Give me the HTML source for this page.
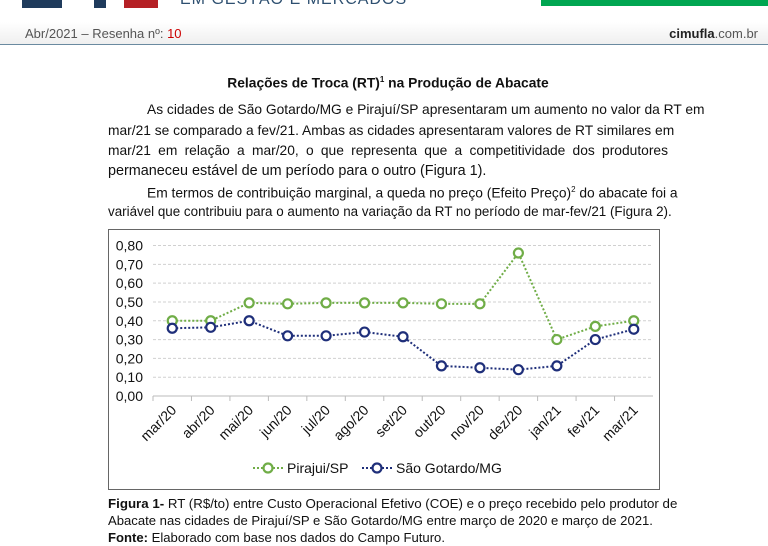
<!DOCTYPE html>
<html><head><meta charset="utf-8">
<style>
body{margin:0;width:768px;height:539px;overflow:hidden;background:#fff;font-family:"Liberation Sans",sans-serif;position:relative;color:#111}
.abs{position:absolute}
.ln{position:absolute;left:108px;width:560px;font-size:13.8px;white-space:nowrap;text-align:justify;text-align-last:justify;line-height:16px}
.nj{text-align-last:left}
</style></head><body>
<div class="abs" style="left:22px;top:0;width:40px;height:8px;background:#1f3b5c"></div>
<div class="abs" style="left:94px;top:0;width:12px;height:8px;background:#1f3b5c"></div>
<div class="abs" style="left:124px;top:0;width:34px;height:8px;background:#b52025"></div>
<div class="abs" style="left:180px;top:-9px;font-size:16px;color:#2d4f70;letter-spacing:1px">EM GESTÃO E MERCADOS</div>
<div class="abs" style="left:541px;top:0;width:227px;height:6px;background:#00a651"></div>
<div class="abs" style="left:0;top:22px;width:768px;height:22px;background:linear-gradient(#fff,#efefef);border-bottom:1px solid #6a8aa0"></div>
<div class="abs" style="left:25px;top:26px;font-size:13px;color:#555">Abr/2021 – Resenha nº: <span style="color:#c00">10</span></div>
<div class="abs" style="right:10px;top:26px;font-size:13px;color:#555"><b style="color:#222">cimufla</b>.com.br</div>

<div class="abs" style="left:0;width:776px;text-align:center;top:75px;font-size:13.8px;font-weight:bold">Relações de Troca (RT)<sup style="font-size:8px">1</sup> na Produção de Abacate</div>
<div class="ln" style="top:102px;left:147px;width:521px">As cidades de São Gotardo/MG e Pirajuí/SP apresentaram um aumento no valor da RT em</div>
<div class="ln" style="top:123px">mar/21 se comparado a fev/21. Ambas as cidades apresentaram valores de RT similares em</div>
<div class="ln" style="top:143px">mar/21 em relação a mar/20, o que representa que a competitividade dos produtores</div>
<div class="ln nj" style="top:163px;font-size:14.4px">permaneceu estável de um período para o outro (Figura 1).</div>
<div class="ln" style="top:182px;left:147px;width:521px">Em termos de contribuição marginal, a queda no preço (Efeito Preço)<sup style="font-size:8px">2</sup> do abacate foi a</div>
<div class="ln nj" style="top:204px;font-size:13.4px">variável que contribuiu para o aumento na variação da RT no período de mar-fev/21 (Figura 2).</div>

<svg class="abs" style="left:0;top:0" width="768" height="539" id="chart"></svg>

<div class="abs" style="left:108px;top:495px;width:560px;font-size:13.3px;line-height:17px;text-align:justify;text-align-last:justify;white-space:nowrap"><b>Figura 1-</b> RT (R$/to) entre Custo Operacional Efetivo (COE) e o preço recebido pelo produtor de</div>
<div class="abs" style="left:108px;top:512px;font-size:13.1px;line-height:17px;white-space:nowrap">Abacate nas cidades de Pirajuí/SP e São Gotardo/MG entre março de 2020 e março de 2021.</div>
<div class="abs" style="left:108px;top:529px;font-size:13.1px;line-height:17px;white-space:nowrap"><b>Fonte:</b> Elaborado com base nos dados do Campo Futuro.</div>

<script>
const categories=["mar/20","abr/20","mai/20","jun/20","jul/20","ago/20","set/20","out/20","nov/20","dez/20","jan/21","fev/21","mar/21"];
const pirajui=[0.40,0.40,0.495,0.49,0.495,0.495,0.495,0.49,0.49,0.76,0.30,0.37,0.40];
const saoGotardo=[0.36,0.365,0.40,0.32,0.32,0.34,0.315,0.16,0.15,0.14,0.16,0.30,0.355];
const yTicks=[0,0.1,0.2,0.3,0.4,0.5,0.6,0.7,0.8];
const yTickLabels=["0,00","0,10","0,20","0,30","0,40","0,50","0,60","0,70","0,80"];

const NS="http://www.w3.org/2000/svg";
const svg=document.getElementById('chart');
const x0=153,x1=653,yBase=396,yTop=245.5,yMax=0.8;
const step=(x1-x0)/categories.length;
const xs=i=>x0+step*(i+0.5);
const ys=v=>yBase-(v/yMax)*(yBase-yTop);
function mk(t,a){const e=document.createElementNS(NS,t);for(const k in a)e.setAttribute(k,a[k]);svg.appendChild(e);return e;}

const frame=mk('rect',{x:108.5,y:229.5,width:551,height:260,fill:'none',stroke:'#666','stroke-width':1});



yTicks.forEach((v,i)=>{
  if(v>0){const g=mk('line',{x1:x0,x2:x1,y1:ys(v),y2:ys(v),stroke:'#d0d0d0','stroke-dasharray':'3,2'});
  
  }
  const t=mk('text',{x:143,y:ys(v)+5,'text-anchor':'end','font-size':'14','font-family':'Liberation Sans, sans-serif',fill:'#111'});
  t.textContent=yTickLabels[i];
  
  
});
const ax=mk('line',{x1:x0,x2:x1,y1:yBase,y2:yBase,stroke:'#bbb'});


categories.forEach((c,i)=>{
  const tk=mk('line',{x1:x0+step*i,x2:x0+step*i,y1:yBase,y2:yBase+5,stroke:'#bbb'});
  
  
  const t=mk('text',{x:xs(i)+5,y:yBase+15,'text-anchor':'end','font-size':'14','font-family':'Liberation Sans, sans-serif',fill:'#111',transform:`rotate(-45 ${xs(i)+5} ${yBase+15})`});
  t.textContent=c;
  
  
});
function series(data,color,name){
  const l=mk('polyline',{points:data.map((v,i)=>xs(i)+','+ys(v)).join(' '),fill:'none',stroke:color,'stroke-width':2,'stroke-dasharray':'2,2'});
  
  
  data.forEach((v,i)=>{
    const c=mk('circle',{cx:xs(i),cy:ys(v),r:4.5,fill:'#fff',stroke:color,'stroke-width':2.2});
    
    
  });
}
series(pirajui,'#70ad47','pirajui');
series(saoGotardo,'#1f2f7a','sao-gotardo');

function legend(x,color,label,name){
  const l=mk('line',{x1:x,x2:x+30,y1:468,y2:468,stroke:color,'stroke-width':2,'stroke-dasharray':'2,2'});
  
  
  const c=mk('circle',{cx:x+15,cy:468,r:4.5,fill:'#fff',stroke:color,'stroke-width':2.2});
  
  
  const t=mk('text',{x:x+34,y:473,'font-size':'14','font-family':'Liberation Sans, sans-serif',fill:'#111'});
  t.textContent=label;
  
  
}
legend(253,'#70ad47','Pirajui/SP','pirajui');
legend(362,'#1f2f7a','São Gotardo/MG','sao-gotardo');
</script>
</body></html>
